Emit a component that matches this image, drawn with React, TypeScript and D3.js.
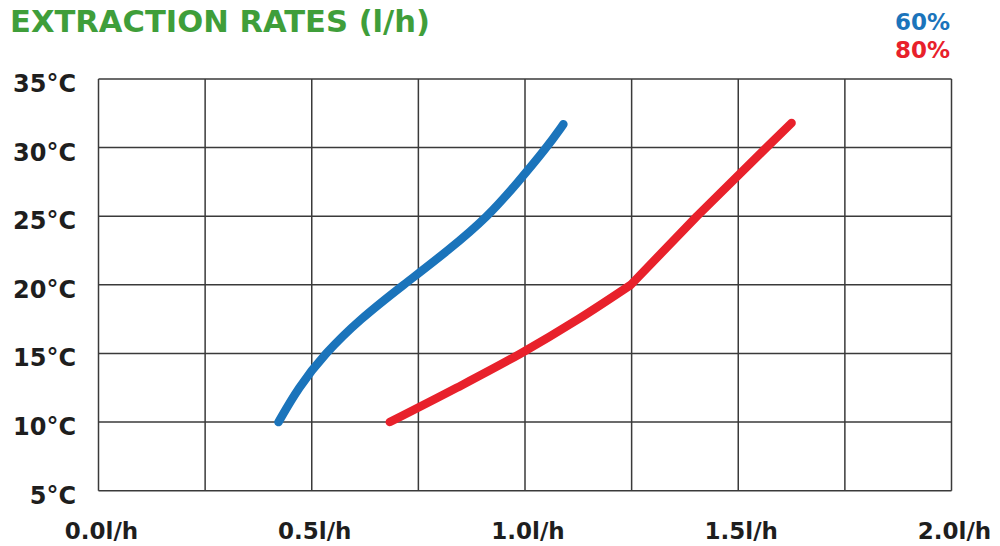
import React from "react";
import * as d3 from "d3";

const title = "EXTRACTION RATES (l/h)";
const xTicks = [0, 0.25, 0.5, 0.75, 1.0, 1.25, 1.5, 1.75, 2.0];
const xLabelTicks = [0, 0.5, 1.0, 1.5, 2.0];
const xLabels = ["0.0l/h", "0.5l/h", "1.0l/h", "1.5l/h", "2.0l/h"];
const yTicks = [5, 10, 15, 20, 25, 30, 35];
const yLabels = ["5°C", "10°C", "15°C", "20°C", "25°C", "30°C", "35°C"];

const seriesNames = ["60%", "80%"];
const seriesColors = ["#1b74bb", "#e8212b"];

// 60% humidity: [l/h, °C]
const rate60: [number, number][] = [
  [0.422, 10],
  [0.468, 12.5],
  [0.531, 15],
  [0.613, 17.5],
  [0.715, 20],
  [0.82, 22.5],
  [0.914, 25],
  [0.984, 27.5],
  [1.051, 30],
  [1.09, 31.7],
];

// 80% humidity, lower part (curved): [l/h, °C]
const rate80Low: [number, number][] = [
  [0.683, 10],
  [0.84, 12.5],
  [0.99, 15],
  [1.125, 17.5],
  [1.248, 20],
];
// 80% humidity, upper part (straight after the kink at 20°C)
const rate80High: [number, number][] = [
  [1.248, 20],
  [1.403, 25],
  [1.566, 30],
  [1.625, 31.8],
];

export default function App() {
  const W = 1000;
  const H = 546;
  const x = d3.scaleLinear().domain([0, 2]).range([98.5, 951.5]);
  const y = d3.scaleLinear().domain([5, 35]).range([490.7, 79]);

  const basis = d3
    .line<[number, number]>()
    .x((d) => x(d[0]))
    .y((d) => y(d[1]))
    .curve(d3.curveBasis);
  const smooth = d3
    .line<[number, number]>()
    .x((d) => x(d[0]))
    .y((d) => y(d[1]))
    .curve(d3.curveCatmullRom.alpha(0.5));
  const straight = d3
    .line<[number, number]>()
    .x((d) => x(d[0]))
    .y((d) => y(d[1]))
    .curve(d3.curveLinear);

  const path60 = basis(rate60) || "";
  const path80 =
    (smooth(rate80Low) || "") + (straight(rate80High) || "").replace(/^M/, "L");

  const font = "'DejaVu Sans', Verdana, sans-serif";
  const textColor = "#1e1e1e";

  return (
    <svg
      width={W}
      height={H}
      viewBox={`0 0 ${W} ${H}`}
      style={{ position: "absolute", left: 0, top: 0, background: "#fff" }}
    >
      <rect x={0} y={0} width={W} height={H} fill="#fff" />
      <text
        x={10}
        y={32}
        fontFamily={font}
        fontWeight={700}
        fontSize={31}
        fill="#3f9e3a"
        textLength={420}
        lengthAdjust="spacingAndGlyphs"
      >
        {title}
      </text>

      {/* grid */}
      <g stroke="#3a3a3a" strokeWidth={1.5}>
        {xTicks.map((t) => (
          <line key={"vx" + t} x1={x(t)} x2={x(t)} y1={y(35)} y2={y(5)} />
        ))}
        {yTicks.map((t) => (
          <line key={"hy" + t} x1={x(0)} x2={x(2)} y1={y(t)} y2={y(t)} />
        ))}
      </g>

      {/* y labels */}
      {yTicks.map((t, i) => (
        <text
          key={"yl" + t}
          x={76}
          y={y(t) + 13}
          textAnchor="end"
          fontFamily={font}
          fontWeight={700}
          fontSize={24}
          fill={textColor}
        >
          {yLabels[i]}
        </text>
      ))}

      {/* x labels */}
      {xLabelTicks.map((t, i) => (
        <text
          key={"xl" + t}
          x={x(t) + 3}
          y={539}
          textAnchor="middle"
          fontFamily={font}
          fontWeight={700}
          fontSize={23}
          fill={textColor}
        >
          {xLabels[i]}
        </text>
      ))}

      {/* lines */}
      <path
        d={path60}
        fill="none"
        stroke={seriesColors[0]}
        strokeWidth={8.5}
        strokeLinecap="round"
        strokeLinejoin="round"
      />
      <path
        d={path80}
        fill="none"
        stroke={seriesColors[1]}
        strokeWidth={8.5}
        strokeLinecap="round"
        strokeLinejoin="round"
      />

      {/* legend */}
      {seriesNames.map((n, i) => (
        <text
          key={n}
          x={950}
          y={30 + i * 28}
          textAnchor="end"
          fontFamily={font}
          fontWeight={700}
          fontSize={23}
          fill={seriesColors[i]}
        >
          {n}
        </text>
      ))}
    </svg>
  );
}
